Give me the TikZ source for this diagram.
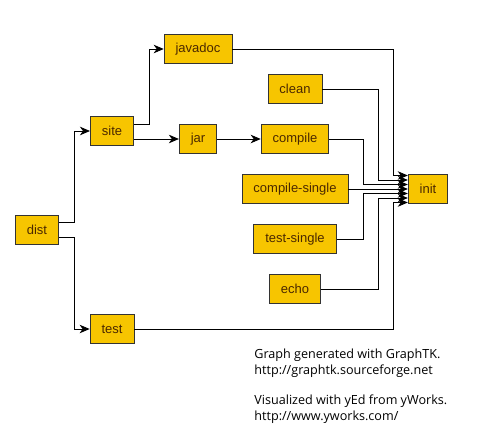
\documentclass[tikz,border=0pt]{standalone}
\usepackage{fontspec}
\setmainfont{Liberation Sans}
\newfontfamily\notefont{Open Sans}
\usetikzlibrary{arrows.meta}
\definecolor{boxfill}{HTML}{F7C500}
\definecolor{boxtext}{HTML}{4A2800}
\begin{document}
\begin{tikzpicture}[x=1pt,y=-1pt,
  target/.style={rectangle,draw=black!80,fill=boxfill,text=boxtext,font=\fontsize{13}{14}\selectfont,
    inner xsep=11.5pt,minimum height=29.5pt},
  note/.style={anchor=base west,align=left,inner sep=0pt,font=\notefont\fontsize{12.6}{15.5}\selectfont},
  >={Stealth[length=10pt,width=8.5pt,inset=3pt]},line width=0.8pt]
\useasboundingbox (0,0) rectangle (480,445);

\node[target] (dist) at (37,230) {dist};
\node[target] (site) at (112,131) {site};
\node[target] (test) at (112,329) {test};
\node[target] (javadoc) at (198,49) {javadoc};
\node[target] (jar) at (198,139) {jar};
\node[target] (clean) at (295,89) {clean};
\node[target] (compile) at (295,139) {compile};
\node[target] (single) at (295,189) {compile-single};
\node[target] (testsingle) at (295,239) {test-single};
\node[target] (echo) at (295,289) {echo};
\node[target] (init) at (428,189) {init};

% bends
\coordinate (fork) at (74,0);
\coordinate (branch) at (149,0);
\coordinate (laneA) at (363,0);
\coordinate (laneB) at (378,0);
\coordinate (laneC) at (393,0);
\foreach \i/\s in {1/13.5,2/9,3/4.5,4/0,5/-4.5,6/-9,7/-13.5}
  \coordinate (in\i) at ([yshift=\s pt]init.west);

\draw[->] ([yshift=8pt]dist.east) -| (fork |- site) -- (site);
\draw[->] ([yshift=-7.5pt]dist.east) -| (fork |- test) -- (test);
\draw[->] ([yshift=6.5pt]site.east) -| (branch |- javadoc) -- (javadoc);
\draw[->] (site.east |- jar) -- (jar);
\draw[->] (jar) -- (compile);

\draw[->] (javadoc) -| (laneC |- in1) -- (in1);
\draw[->] (clean) -| (laneB |- in2) -- (in2);
\draw[->] (compile) -| (laneA |- in3) -- (in3);
\draw[->] (single) -- (in4);
\draw[->] (testsingle) -| (laneA |- in5) -- (in5);
\draw[->] (echo) -| (laneB |- in6) -- (in6);
\draw[->] (test) -| (laneC |- in7) -- (in7);

\node[note] (graphtk) at (254,374)
  {Graph generated with GraphTK.\\http://graphtk.sourceforge.net};
\node[note] (yed) at (254,420)
  {Visualized with yEd from yWorks.\\http://www.yworks.com/};
\end{tikzpicture}
\end{document}
